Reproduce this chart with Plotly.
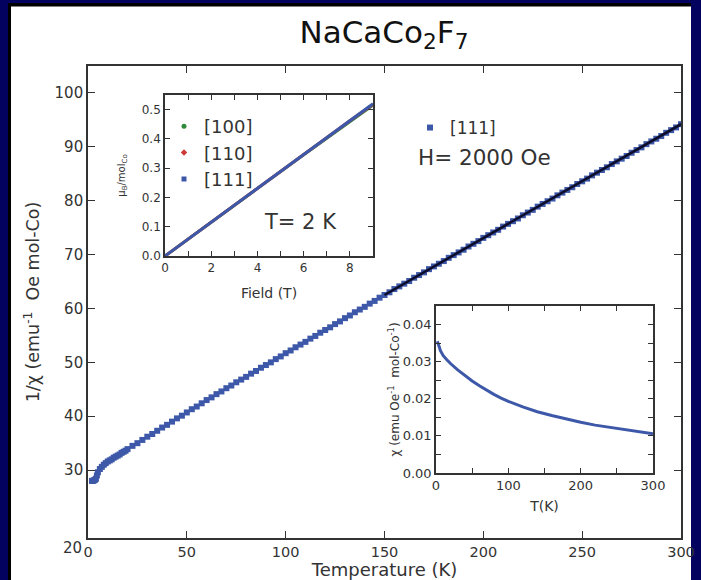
import plotly.graph_objects as go

# ---------------- data ----------------
temp_K = [2, 2.5, 3, 3.5, 4, 4.5, 5, 6, 7, 8, 9, 10, 11, 12, 13, 14, 15, 16, 17, 18, 19, 20,
          22.5, 25, 27.5, 30, 32.5, 35, 37.5, 40, 42.5, 45, 47.5, 50, 52.5, 55, 57.5, 60,
          62.5, 65, 67.5, 70, 72.5, 75, 77.5, 80, 82.5, 85, 87.5, 90, 92.5, 95, 97.5, 100,
          102.5, 105, 107.5, 110, 112.5, 115, 117.5, 120, 122.5, 125, 127.5, 130, 132.5, 135,
          137.5, 140, 142.5, 145, 147.5, 150, 152.5, 155, 157.5, 160, 162.5, 165, 167.5, 170,
          172.5, 175, 177.5, 180, 182.5, 185, 187.5, 190, 192.5, 195, 197.5, 200, 202.5, 205,
          207.5, 210, 212.5, 215, 217.5, 220, 222.5, 225, 227.5, 230, 232.5, 235, 237.5, 240,
          242.5, 245, 247.5, 250, 252.5, 255, 257.5, 260, 262.5, 265, 267.5, 270, 272.5, 275,
          277.5, 280, 282.5, 285, 287.5, 290, 292.5, 295, 297.5, 300]
inv_chi = [28.0, 28.0, 28.1, 28.2, 28.4, 29.0, 29.6, 30.2, 30.6, 31.0, 31.3, 31.6, 31.8, 32.0,
           32.3, 32.5, 32.7, 32.9, 33.2, 33.4, 33.6, 33.9,
           34.5, 35.0, 35.6, 36.2, 36.7, 37.3, 37.9, 38.4, 39.0, 39.6, 40.1, 40.7, 41.3, 41.8,
           42.4, 43.0, 43.5, 44.1, 44.6, 45.2, 45.7, 46.3, 46.8, 47.3, 47.9, 48.4, 49.0, 49.5,
           50.0, 50.6, 51.1, 51.7, 52.2, 52.8, 53.3, 53.8, 54.4, 54.9, 55.5, 56.0, 56.5, 57.1,
           57.6, 58.2, 58.7, 59.3, 59.8, 60.3, 60.9, 61.4, 62.0, 62.5, 63.0, 63.6, 64.1, 64.6,
           65.1, 65.7, 66.2, 66.7, 67.3, 67.8, 68.3, 68.8, 69.4, 69.9, 70.4, 70.9, 71.5, 72.0,
           72.5, 73.1, 73.6, 74.1, 74.6, 75.2, 75.7, 76.2, 76.7, 77.3, 77.8, 78.3, 78.9, 79.4,
           79.9, 80.4, 81.0, 81.5, 82.0, 82.5, 83.1, 83.6, 84.1, 84.7, 85.2, 85.7, 86.2, 86.8,
           87.3, 87.8, 88.3, 88.9, 89.4, 89.9, 90.5, 91.0, 91.5, 92.0, 92.6, 93.1, 93.6, 94.2]

fit_T = [150, 300]
fit_inv_chi = [62.5, 94.2]

x_ticks = [0, 50, 100, 150, 200, 250, 300]
y_ticks = [20, 30, 40, 50, 60, 70, 80, 90, 100]

# inset 1: magnetisation at T = 2 K
field_T = [0, 1, 2, 3, 4, 5, 6, 7, 8, 9]
m_100 = [0, 0.058, 0.116, 0.174, 0.232, 0.289, 0.346, 0.402, 0.458, 0.515]
m_110 = [0, 0.058, 0.116, 0.175, 0.233, 0.291, 0.348, 0.405, 0.462, 0.518]
m_111 = [0, 0.058, 0.117, 0.175, 0.233, 0.291, 0.349, 0.406, 0.463, 0.520]

# inset 2: chi vs T
chi_T = [1.8, 2.5, 4, 5, 6, 8, 10, 15, 20, 30, 40, 50, 60, 70, 80, 90, 100, 120, 140,
         160, 180, 200, 220, 240, 260, 280, 300]
chi = [0.0355, 0.0352, 0.0345, 0.0337, 0.0330, 0.0322, 0.0316, 0.0305, 0.0295, 0.0278,
       0.0262, 0.0248, 0.0235, 0.0223, 0.0212, 0.0202, 0.0193, 0.0178, 0.0165, 0.0155,
       0.0145, 0.0137, 0.0129, 0.0123, 0.0117, 0.0111, 0.0106]

# ---------------- styles ----------------
BLUE = "#3d58a8"
GREEN = "#2f8a3c"
RED = "#cf3a3a"
NAVY = "#03035f"
AX = "#333333"
TXT = "#333333"
FONT = "DejaVu Sans"

W, H = 701, 580
ML, MR, MT, MB = 88, 20, 66, 42
PW, PH = W - ML - MR, H - MT - MB


def px_x(p):
    return (p - ML) / PW


def px_y(p):
    return (H - MB - p) / PH


fig = go.Figure()

fig.add_trace(go.Scatter(
    x=temp_K, y=inv_chi, mode="markers", name="[111]",
    marker=dict(symbol="square", size=6, color=BLUE, line=dict(width=0)),
    legend="legend", xaxis="x", yaxis="y"))
fig.add_trace(go.Scatter(
    x=fit_T, y=fit_inv_chi, mode="lines", showlegend=False,
    line=dict(color="#0d0d2a", width=2.5), xaxis="x", yaxis="y"))

# inset 1 lines
for ys, col in [(m_100, GREEN), (m_110, RED), (m_111, BLUE)]:
    fig.add_trace(go.Scatter(x=field_T, y=ys, mode="lines", showlegend=False,
                             line=dict(color=col, width=3), xaxis="x2", yaxis="y2"))
# inset 1 legend entries
for name, col, sym in [("[100]", GREEN, "circle"), ("[110]", RED, "diamond"),
                       ("[111]", BLUE, "square")]:
    fig.add_trace(go.Scatter(x=[None], y=[None], mode="markers", name=name,
                             marker=dict(symbol=sym, size=5, color=col),
                             legend="legend2", xaxis="x2", yaxis="y2"))

# inset 2
fig.add_trace(go.Scatter(x=chi_T, y=chi, mode="lines", showlegend=False,
                         line=dict(color=BLUE, width=3),
                         xaxis="x3", yaxis="y3"))

common = dict(showline=True, linecolor=AX, linewidth=1.6, mirror="ticks",
              ticks="inside", tickcolor=AX, showgrid=False, zeroline=False,
              automargin=False)

fig.update_layout(
    width=W, height=H,
    margin=dict(l=ML, r=MR, t=MT, b=MB),
    paper_bgcolor="white", plot_bgcolor="rgba(0,0,0,0)",
    font=dict(family=FONT, color=TXT),
    title=dict(text="NaCaCo<sub>2</sub>F<sub>7</sub>", x=384 / W, xanchor="center",
               y=1 - 32 / H, yanchor="middle", font=dict(size=31, color="#111")),
    xaxis=dict(domain=[0, 1], range=[0, 300], tickvals=x_ticks, ticklen=7,
               tickfont=dict(size=14.5), anchor="y",
               title=dict(text="Temperature (K)", font=dict(size=18), standoff=0),
               **common),
    yaxis=dict(domain=[0, 1], range=[17.4, 105], tickvals=y_ticks[1:], ticklen=7,
               tickfont=dict(size=15), anchor="x",
               title=dict(text="1/χ (emu<sup>-1</sup>  Oe mol-Co)", font=dict(size=17.5),
                          standoff=10),
               **common),
    xaxis2=dict(domain=[px_x(165), px_x(373)], range=[0, 9], dtick=2, tick0=0,
                ticklen=5, tickfont=dict(size=12), anchor="y2",
                minor=dict(dtick=1, ticks="inside", ticklen=5, tickcolor=AX),
                title=dict(text="Field (T)", font=dict(size=14), standoff=14),
                **common),
    yaxis2=dict(domain=[px_y(256), px_y(95)], range=[0, 0.55], dtick=0.1, tick0=0,
                tickformat=".1f", ticklen=5, tickfont=dict(size=12), anchor="x2",
                title=dict(text="μ<sub>B</sub>/mol<sub>Co</sub>", font=dict(size=10),
                           standoff=14),
                **common),
    xaxis3=dict(domain=[px_x(436), px_x(653)], range=[0, 300], dtick=100, tick0=0,
                ticklen=5, tickfont=dict(size=13), anchor="y3",
                minor=dict(dtick=50, ticks="inside", ticklen=5, tickcolor=AX),
                title=dict(text="T(K)", font=dict(size=14), standoff=9),
                **common),
    yaxis3=dict(domain=[px_y(473), px_y(306)], range=[0, 0.045], dtick=0.01, tick0=0,
                tickformat=".2f", ticklen=5, tickfont=dict(size=13), anchor="x3",
                minor=dict(dtick=0.005, ticks="inside", ticklen=5, tickcolor=AX),
                title=dict(text="χ (emu Oe<sup>-1</sup>  mol-Co<sup>-1</sup>)",
                           font=dict(size=12), standoff=0),
                **common),
    legend=dict(x=px_x(410), y=px_y(128), xanchor="left", yanchor="middle",
                bgcolor="rgba(0,0,0,0)", font=dict(size=17), itemwidth=30),
    legend2=dict(x=px_x(164), y=px_y(153), xanchor="left", yanchor="middle",
                 bgcolor="rgba(0,0,0,0)", font=dict(size=18), itemwidth=30,
                 tracegroupgap=0),
    annotations=[
        dict(text="H= 2000 Oe", x=px_x(416), y=px_y(157), xref="paper", yref="paper",
             xanchor="left", yanchor="middle", showarrow=False, font=dict(size=21.5)),
        dict(text="T= 2 K", x=px_x(262), y=px_y(222), xref="paper", yref="paper",
             xanchor="left", yanchor="middle", showarrow=False, font=dict(size=21)),
        # lowest y tick label, drawn below the axis corner as in the reference
        dict(text=str(y_ticks[0]), x=0, y=0, xref="paper", yref="paper",
             xanchor="right", yanchor="middle", xshift=-4, yshift=-10,
             showarrow=False, font=dict(size=15)),
    ],
    shapes=[
        dict(type="rect", xref="paper", yref="paper", layer="below", line=dict(width=0),
             fillcolor=NAVY, x0=px_x(0), x1=px_x(8), y0=px_y(H), y1=px_y(0)),
        dict(type="rect", xref="paper", yref="paper", layer="below", line=dict(width=0),
             fillcolor="black", x0=px_x(8), x1=px_x(11), y0=px_y(H), y1=px_y(3)),
        dict(type="rect", xref="paper", yref="paper", layer="below", line=dict(width=0),
             fillcolor=NAVY, x0=px_x(0), x1=px_x(W), y0=px_y(3), y1=px_y(0)),
        dict(type="rect", xref="paper", yref="paper", layer="below", line=dict(width=0),
             fillcolor="black", x0=px_x(8), x1=px_x(691), y0=px_y(6.5), y1=px_y(3)),
        dict(type="rect", xref="paper", yref="paper", layer="below", line=dict(width=0),
             fillcolor=NAVY, x0=px_x(691), x1=px_x(W), y0=px_y(H), y1=px_y(0)),
    ],
)

fig.write_html("out.html")
